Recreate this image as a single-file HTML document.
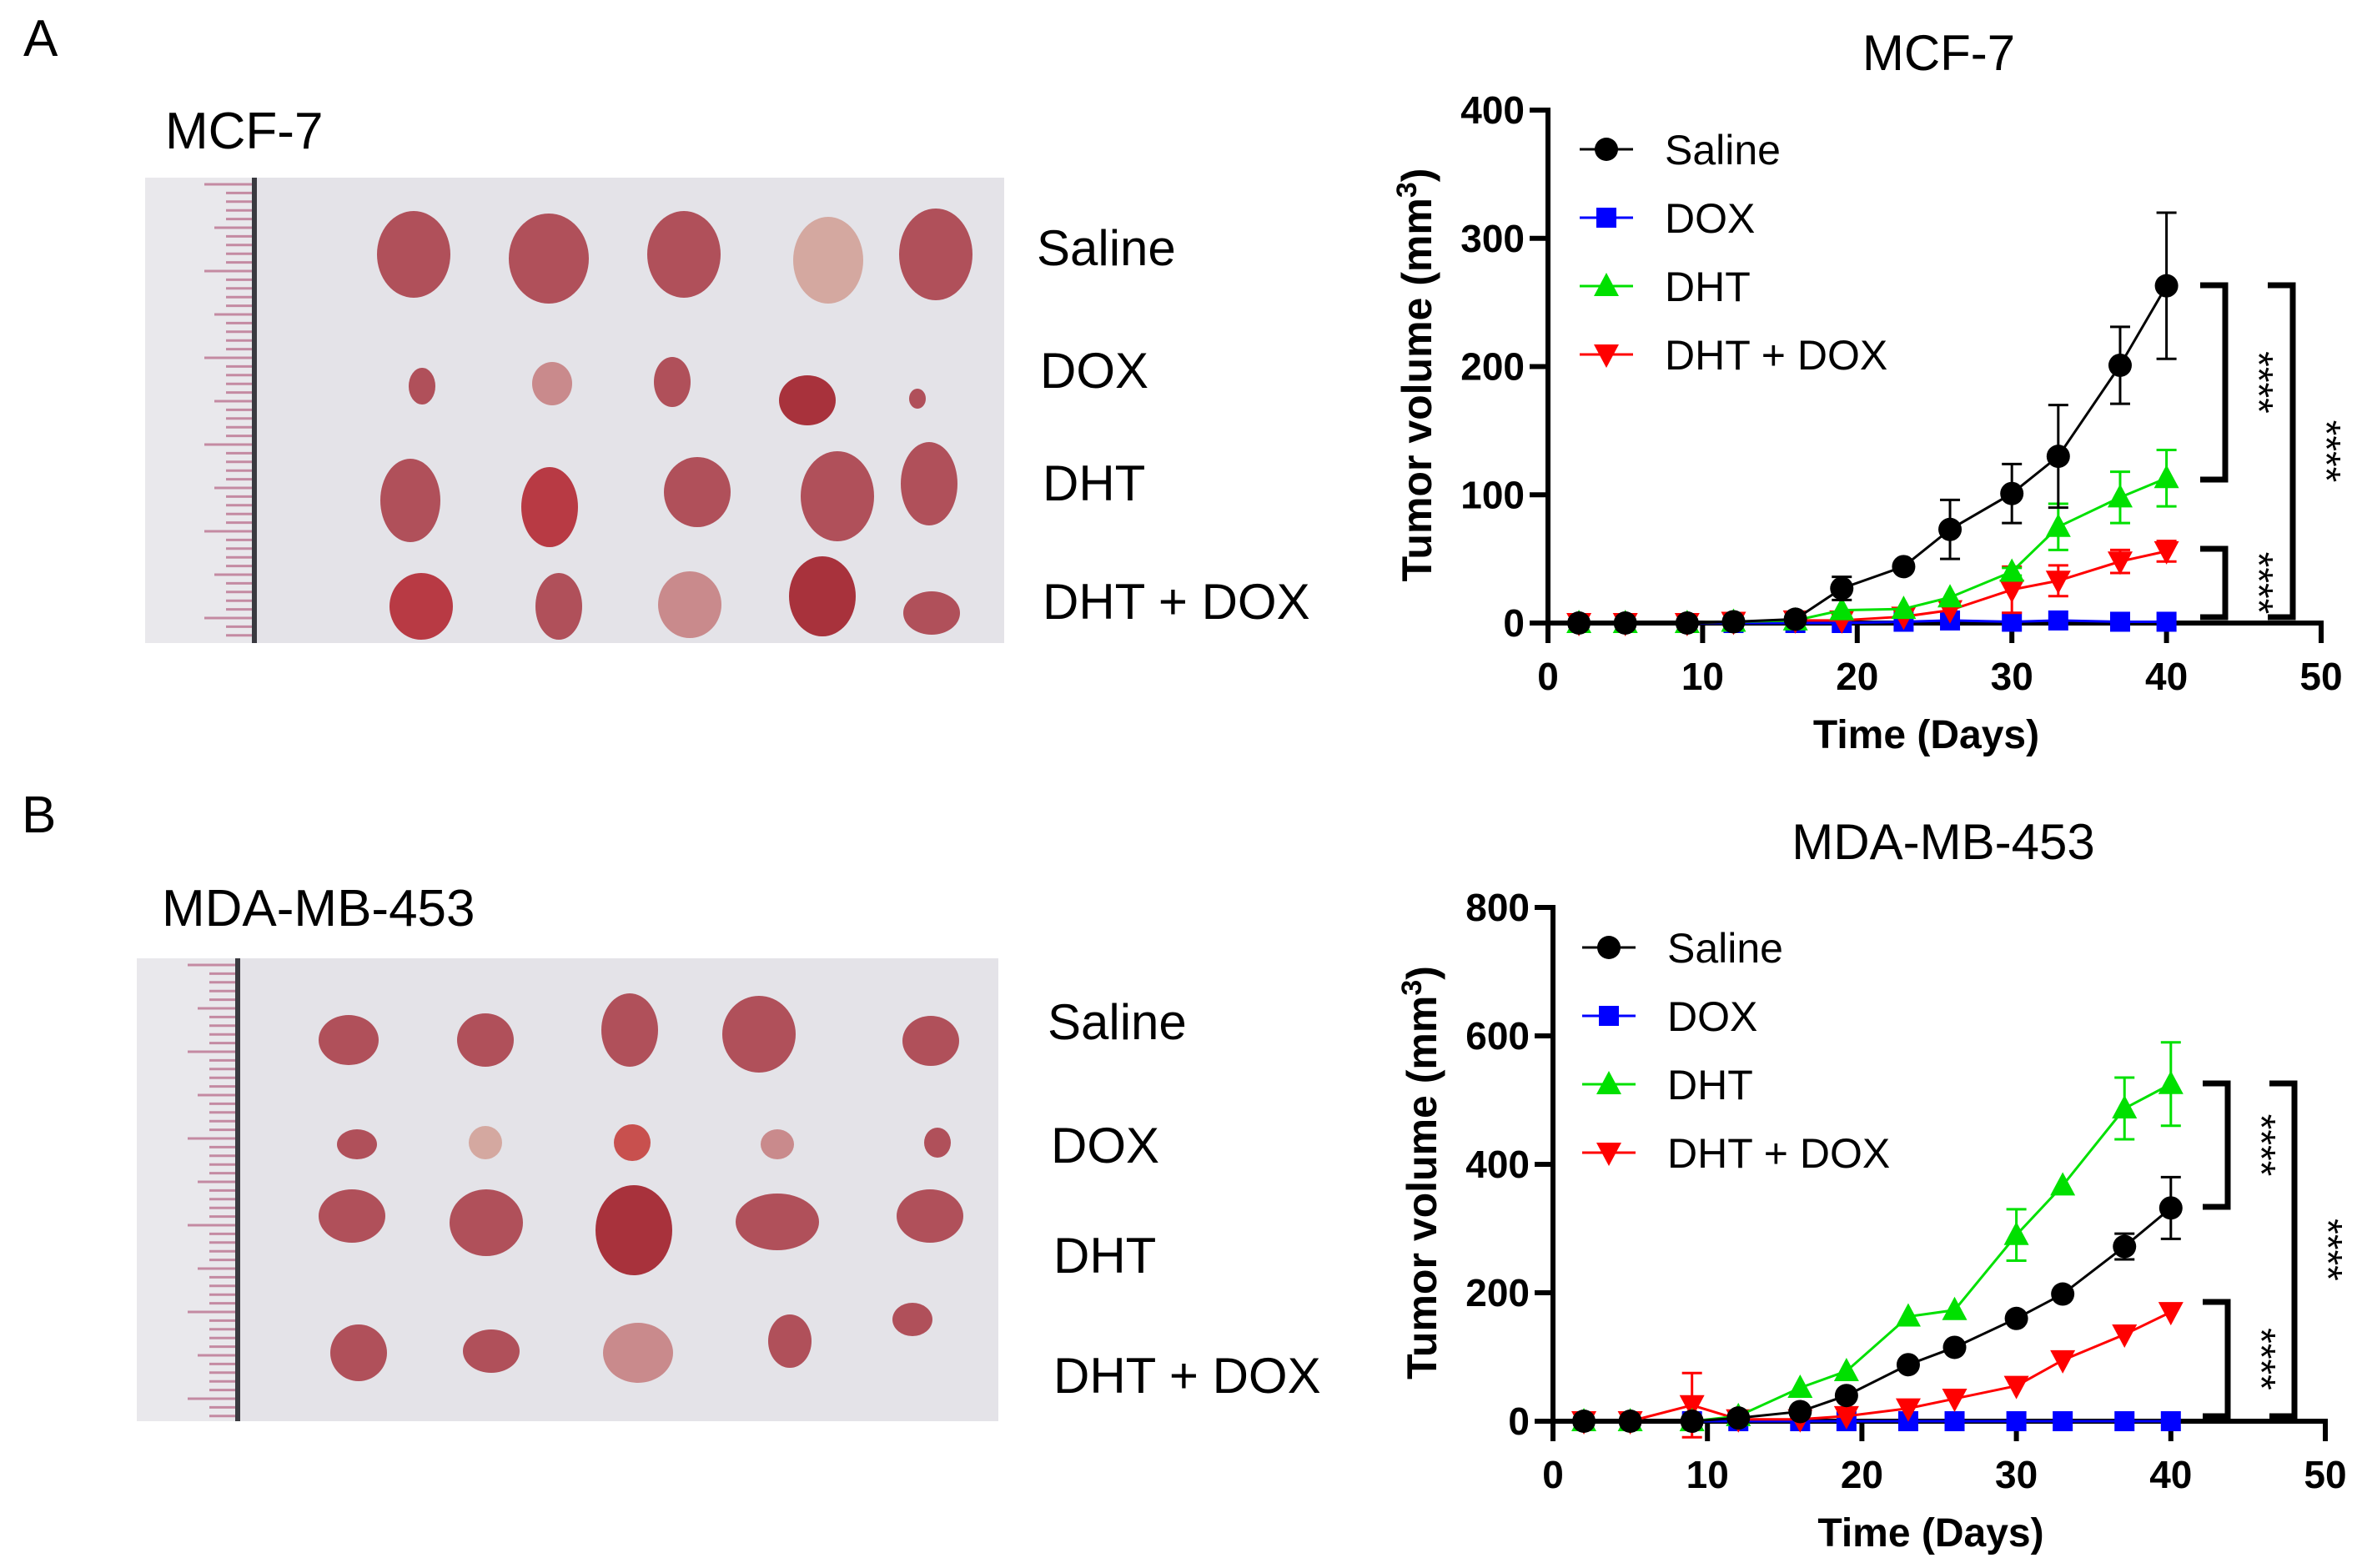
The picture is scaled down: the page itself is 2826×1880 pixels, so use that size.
<!DOCTYPE html>
<html><head><meta charset="utf-8"><style>
html,body{margin:0;padding:0;background:#fff;}
svg{display:block;}
text{font-family:"Liberation Sans",Arial,sans-serif;}
</style></head><body>
<svg id="fig" width="2826" height="1880" viewBox="0 0 2826 1880" xmlns="http://www.w3.org/2000/svg">
<text x="28" y="67" font-size="62">A</text>
<text x="198" y="178" font-size="62">MCF-7</text>
<text x="26" y="998" font-size="62">B</text>
<text x="194" y="1110" font-size="62">MDA-MB-453</text>

<g>
<rect x="174" y="213" width="1030" height="558" fill="#e4e3e8"/>
<rect x="174" y="213" width="131" height="558" fill="#e9e8ec"/>
<g id="rulerA"></g>
<line x1="305" y1="213" x2="305" y2="771" stroke="#3a3a40" stroke-width="6"/>
<g fill="#b0505a">
<ellipse cx="496" cy="305" rx="44" ry="52"/><ellipse cx="658" cy="310" rx="48" ry="54"/><ellipse cx="820" cy="305" rx="44" ry="52"/><ellipse cx="993" cy="312" rx="42" ry="52" fill="#d4a8a0"/><ellipse cx="1122" cy="305" rx="44" ry="55"/>
<ellipse cx="506" cy="463" rx="16" ry="22"/><ellipse cx="662" cy="460" rx="24" ry="26" fill="#c98a8c"/><ellipse cx="806" cy="458" rx="22" ry="30"/><ellipse cx="968" cy="480" rx="34" ry="30" fill="#a8323c"/><ellipse cx="1100" cy="478" rx="10" ry="12"/>
<ellipse cx="492" cy="600" rx="36" ry="50"/><ellipse cx="659" cy="608" rx="34" ry="48" fill="#b83a44"/><ellipse cx="836" cy="590" rx="40" ry="42"/><ellipse cx="1004" cy="595" rx="44" ry="54"/><ellipse cx="1114" cy="580" rx="34" ry="50"/>
<ellipse cx="505" cy="727" rx="38" ry="40" fill="#b83a44"/><ellipse cx="670" cy="727" rx="28" ry="40"/><ellipse cx="827" cy="725" rx="38" ry="40" fill="#c98a8c"/><ellipse cx="986" cy="715" rx="40" ry="48" fill="#a8323c"/><ellipse cx="1117" cy="735" rx="34" ry="26"/>
</g>
</g>

<g>
<rect x="164" y="1149" width="1033" height="555" fill="#e4e3e8"/>
<rect x="164" y="1149" width="121" height="555" fill="#e9e8ec"/>
<g id="rulerB"></g>
<line x1="285" y1="1149" x2="285" y2="1704" stroke="#3a3a40" stroke-width="6"/>
<g fill="#b0505a">
<ellipse cx="418" cy="1247" rx="36" ry="30"/><ellipse cx="582" cy="1247" rx="34" ry="32"/><ellipse cx="755" cy="1235" rx="34" ry="44"/><ellipse cx="910" cy="1240" rx="44" ry="46"/><ellipse cx="1116" cy="1248" rx="34" ry="30"/>
<ellipse cx="428" cy="1372" rx="24" ry="18"/><ellipse cx="582" cy="1370" rx="20" ry="20" fill="#d4a8a0"/><ellipse cx="758" cy="1370" rx="22" ry="22" fill="#c8504e"/><ellipse cx="932" cy="1372" rx="20" ry="18" fill="#c98a8c"/><ellipse cx="1124" cy="1370" rx="16" ry="18"/>
<ellipse cx="422" cy="1458" rx="40" ry="32"/><ellipse cx="583" cy="1466" rx="44" ry="40"/><ellipse cx="760" cy="1475" rx="46" ry="54" fill="#a8323c"/><ellipse cx="932" cy="1465" rx="50" ry="34"/><ellipse cx="1115" cy="1458" rx="40" ry="32"/>
<ellipse cx="430" cy="1622" rx="34" ry="34"/><ellipse cx="589" cy="1620" rx="34" ry="26"/><ellipse cx="765" cy="1622" rx="42" ry="36" fill="#c98a8c"/><ellipse cx="947" cy="1608" rx="26" ry="32"/><ellipse cx="1094" cy="1582" rx="24" ry="20"/>
</g>
</g>

<g font-size="60">
<text x="1243" y="318">Saline</text>
<text x="1247" y="465">DOX</text>
<text x="1250" y="600">DHT</text>
<text x="1250" y="742">DHT + DOX</text>
</g>
<g font-size="60">
<text x="1256" y="1246">Saline</text>
<text x="1260" y="1394">DOX</text>
<text x="1263" y="1526">DHT</text>
<text x="1263" y="1670">DHT + DOX</text>
</g>
<g id="chartA"></g>
<g id="chartB"></g>
</svg>
<script>
const days = [2,5,9,12,16,19,23,26,30,33,37,40];
const xTicks = [0,10,20,30,40,50];
const seriesNames = ["Saline","DOX","DHT","DHT + DOX"];
// MCF-7
const mcfSaline = [0,0,0,1,3,27,44,73,101,130,201,263];
const mcfSalineErr = [0,0,0,0,0,9,3,23,23,40,30,57];
const mcfDox = [0,0,0,0,0,0,1,2,1,2,1,1];
const mcfDoxErr = [0,0,0,0,0,0,0,0,0,0,0,0];
const mcfDht = [0,0,0,1,2,10,11,20,40,75,98,113];
const mcfDhtErr = [0,0,0,0,0,0,0,0,3,18,20,22];
const mcfCombo = [0,0,0,1,2,2,5,10,26,33,48,56];
const mcfComboErr = [0,0,0,3,3,0,0,0,18,12,9,8];
const mcfYTicks = [0,100,200,300,400];
// MDA-MB-453
const mdaSaline = [0,0,0,5,15,40,88,115,160,198,272,332];
const mdaSalineErr = [0,0,0,0,0,0,0,0,0,0,20,48];
const mdaDox = [0,0,0,0,0,0,0,0,0,0,0,0];
const mdaDoxErr = [0,0,0,0,0,0,0,0,0,0,0,0];
const mdaDht = [0,0,0,8,52,78,163,173,290,367,487,525];
const mdaDhtErr = [0,0,0,0,0,0,0,0,40,0,48,65];
const mdaCombo = [0,0,25,3,3,8,20,35,55,95,135,170];
const mdaComboErr = [0,0,50,0,0,0,0,0,0,0,0,0];
const mdaYTicks = [0,200,400,600,800];

const NS="http://www.w3.org/2000/svg";
function el(tag, attrs, parent){const e=document.createElementNS(NS,tag);for(const k in attrs)e.setAttribute(k,attrs[k]);parent.appendChild(e);return e;}
const colors=["#000000","#0000ff","#00e000","#ff0000"];
const markerShapes=["circle","square","up","down"];

function marker(g,shape,cx,cy,color){
  let m;
  if(shape==="circle") m=el("circle",{cx:cx,cy:cy,r:14,fill:color},g);
  else if(shape==="square") m=el("rect",{x:cx-12,y:cy-12,width:24,height:24,fill:color},g);
  else if(shape==="up") m=el("polygon",{points:`${cx},${cy-16} ${cx-15},${cy+12} ${cx+15},${cy+12}`,fill:color},g);
  else m=el("polygon",{points:`${cx},${cy+16} ${cx-15},${cy-12} ${cx+15},${cy-12}`,fill:color},g);
  return m;
}

function drawChart(root,cfg){
  const x0=cfg.x0,x1=cfg.x1,y0=cfg.y0,y1=cfg.y1,ymax=cfg.ymax;
  const X=v=>x0+(x1-x0)*v/50;
  const Y=v=>y0-(y0-y1)*v/ymax;
  const t=el("text",{x:(x0+x1)/2+5,y:cfg.titleY,"font-size":60,"text-anchor":"middle"},root);
  t.textContent=cfg.title;
  
  
  const ax=el("g",{stroke:"#000","stroke-width":6,fill:"none"},root);
  
  
  el("line",{x1:x0,y1:y1-3,x2:x0,y2:y0+3},ax);
  el("line",{x1:x0,y1:y0,x2:x1+3,y2:y0},ax);
  cfg.yTicks.forEach(v=>{
    el("line",{x1:x0-22,y1:Y(v),x2:x0,y2:Y(v)},ax);
    const tl=el("text",{x:x0-28,y:Y(v)+16,"font-size":46,"font-weight":"bold","text-anchor":"end"},root);
    tl.textContent=v;
    
    
  });
  xTicks.forEach(v=>{
    el("line",{x1:X(v),y1:y0,x2:X(v),y2:y0+24},ax);
    const tl=el("text",{x:X(v),y:y0+80,"font-size":46,"font-weight":"bold","text-anchor":"middle"},root);
    tl.textContent=v;
    
    
  });
  const xt=el("text",{x:(x0+x1)/2-10,y:y0+150,"font-size":48,"font-weight":"bold","text-anchor":"middle"},root);
  xt.textContent="Time (Days)";
  
  
  const cy=(y0+y1)/2+10;
  const yt=el("text",{x:0,y:0,"font-size":50,"font-weight":"bold","text-anchor":"middle",transform:`translate(${x0-140},${cy}) rotate(-90)`},root);
  yt.innerHTML='Tumor volume (mm<tspan dy="-18" font-size="34">3</tspan><tspan dy="18">)</tspan>';
  
  
  const order=[1,3,2,0];
  order.forEach(si=>{
    const vals=cfg.vals[si],errs=cfg.errs[si],col=colors[si];
    const g=el("g",{},root);
    
    
    vals.forEach((v,i)=>{
      if(errs[i]>0){
        const e=el("path",{d:`M${X(days[i])},${Y(v-errs[i])}V${Y(v+errs[i])}M${X(days[i])-12},${Y(v+errs[i])}h24M${X(days[i])-12},${Y(v-errs[i])}h24`,stroke:col,"stroke-width":3,fill:"none"},g);
        
        
      }
    });
    const pts=vals.map((v,i)=>`${X(days[i])},${Y(v)}`).join(" ");
    const pl=el("polyline",{points:pts,stroke:col,"stroke-width":3,fill:"none"},g);
    
    
    vals.forEach((v,i)=>{
      const m=marker(g,markerShapes[si],X(days[i]),Y(v),col);
      
      
    });
  });
  seriesNames.forEach((n,si)=>{
    const ly=cfg.legY+si*82;
    const g=el("g",{},root);
    
    
    el("line",{x1:cfg.legX-32,y1:ly,x2:cfg.legX+32,y2:ly,stroke:colors[si],"stroke-width":3},g);
    marker(g,markerShapes[si],cfg.legX,ly,colors[si]);
    const tx=el("text",{x:cfg.legX+70,y:ly+18,"font-size":50},g);
    tx.textContent=n;
  });
  cfg.brackets.forEach(b=>{
    const g=el("g",{},root);
    
    
    el("path",{d:`M${b.x-30},${b.t}H${b.x}V${b.b}H${b.x-30}`,stroke:"#000","stroke-width":7,fill:"none"},g);
    const s=el("text",{x:0,y:0,"font-size":48,"text-anchor":"middle",transform:`translate(${b.x+24},${(b.t+b.b)/2}) rotate(90)`},g);
    s.textContent="****";
  });
}

drawChart(document.getElementById("chartA"),{
  title:"MCF-7",titleY:84,x0:1856,x1:2783,y0:747,y1:132,ymax:400,yTicks:mcfYTicks,
  vals:[mcfSaline,mcfDox,mcfDht,mcfCombo],errs:[mcfSalineErr,mcfDoxErr,mcfDhtErr,mcfComboErr],
  legX:1926,legY:179,
  brackets:[{x:2668,t:342,b:575},{x:2668,t:658,b:740},{x:2749,t:342,b:740}]
});
drawChart(document.getElementById("chartB"),{
  title:"MDA-MB-453",titleY:1030,x0:1862,x1:2788,y0:1704,y1:1088,ymax:800,yTicks:mdaYTicks,
  vals:[mdaSaline,mdaDox,mdaDht,mdaCombo],errs:[mdaSalineErr,mdaDoxErr,mdaDhtErr,mdaComboErr],
  legX:1929,legY:1136,
  brackets:[{x:2671,t:1299,b:1447},{x:2671,t:1561,b:1698},{x:2751,t:1299,b:1698}]
});

function ruler(id,top,h,rx){
  const g=document.getElementById(id);
  let k=0;
  for(let yy=top+8;yy<top+h;yy+=10.4){
    const len=(k%10===0)?60:(k%5===0?48:34);
    el("line",{x1:rx-len,y1:yy,x2:rx,y2:yy,stroke:"#c48aa2","stroke-width":3},g);
    k++;
  }
}
ruler("rulerA",213,558,305);
ruler("rulerB",1149,555,285);
</script>
</body></html>
